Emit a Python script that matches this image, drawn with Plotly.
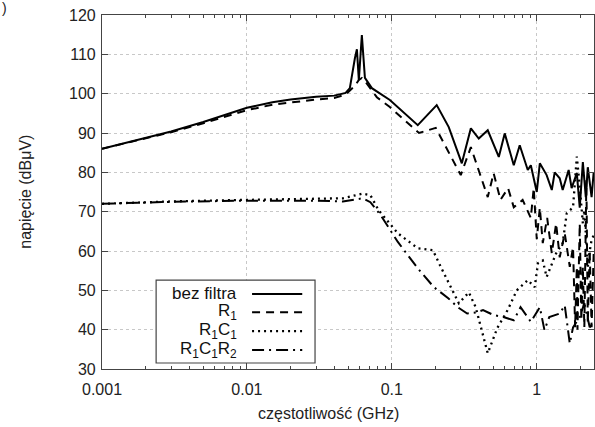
import plotly.graph_objects as go

# ---- data (frequency in GHz, voltage in dBµV) ----
bez_f = [0.001, 0.002, 0.003, 0.005, 0.01, 0.015, 0.02, 0.03, 0.04, 0.048, 0.0513, 0.0556, 0.0574,
         0.0592, 0.0621, 0.0652, 0.0728, 0.0969, 0.151, 0.204, 0.247, 0.304, 0.351, 0.398, 0.459,
         0.547, 0.601, 0.694, 0.763, 0.867, 0.910, 1.0, 1.05, 1.17, 1.27, 1.33, 1.44, 1.51, 1.66,
         1.74, 1.89, 1.98, 2.08, 2.18, 2.25, 2.39, 2.47]
bez_v = [86, 88.7, 90.4, 92.8, 96.4, 97.8, 98.5, 99.2, 99.5, 100.2, 101.4, 109, 111.3,
         103.4, 114.9, 104, 101.4, 98.4, 92, 97.1, 91.5, 82.3, 91.2, 88.6, 90.7,
         83.9, 89.9, 81.8, 86.9, 80.6, 81.8, 75, 82.3, 79.3, 75.5, 80, 78.5, 75.5, 80.6,
         76, 79.8, 71, 82.6, 73.7, 81.3, 73.7, 80]

r1_f = [0.001, 0.002, 0.003, 0.005, 0.01, 0.015, 0.02, 0.03, 0.04, 0.048, 0.0556, 0.0592, 0.0621,
        0.0652, 0.0788, 0.0969, 0.154, 0.201, 0.299, 0.351, 0.459, 0.504, 0.562, 0.634, 0.694,
        0.799, 0.910, 0.953, 1.0, 1.05, 1.10, 1.18, 1.27, 1.36, 1.44, 1.56, 1.69, 1.78, 1.84,
        1.89, 1.91, 1.98, 2.03, 2.08, 2.13, 2.20, 2.25, 2.32, 2.39, 2.47]
r1_v = [86, 88.6, 90.2, 92.5, 95.8, 97.2, 97.8, 98.5, 98.9, 99.8, 102, 103.5, 104,
        103.2, 99.1, 96.6, 90, 91.3, 79.3, 86.4, 73.7, 79.8, 73, 76, 71.1,
        73, 68.4, 76, 63, 71, 62, 68.4, 59.4, 67, 58.4, 64.5, 56, 61, 40.6,
        56, 40, 67, 42.4, 56, 40.6, 78, 41.6, 60, 40.6, 59.4]

r1c1_f = [0.001, 0.003, 0.01, 0.03, 0.0459, 0.063, 0.0711, 0.0809, 0.110, 0.151, 0.192, 0.218,
          0.29, 0.34, 0.379, 0.459, 0.534, 0.63, 0.728, 0.867, 0.968, 1.02, 1.10, 1.17, 1.36,
          1.51, 1.61, 1.78, 1.89, 1.98, 2.08, 2.13, 2.25, 2.32, 2.39, 2.47]
r1c1_v = [72, 72.6, 73, 73.2, 73.4, 74.6, 74.2, 70.4, 64.5, 60.7, 60.2, 55.9,
          46.7, 49.5, 45.7, 34, 40.4, 45, 50, 52.6, 50.8, 56.9, 57.6, 53.4, 59.4,
          62, 69.6, 71.1, 84, 76.3, 67, 70.4, 56, 60, 62.8, 64]

r1c1r2_f = [0.001, 0.003, 0.01, 0.03, 0.0459, 0.063, 0.0711, 0.0838, 0.110, 0.151, 0.195, 0.245,
            0.285, 0.331, 0.386, 0.426, 0.504, 0.588, 0.694, 0.773, 0.910, 1.05, 1.13, 1.22,
            1.44, 1.56, 1.69, 1.78, 1.98, 2.13, 2.32, 2.47]
r1c1r2_v = [72, 72.5, 72.8, 72.8, 72.6, 73.4, 72.4, 69.1, 62.3, 55.6, 50.8, 48,
            45.7, 44.1, 44.4, 45, 43.7, 43.2, 42.4, 45.7, 42, 45.7, 39.9, 43.2,
            44.1, 46.2, 36.5, 40.6, 43.2, 46.7, 40.6, 42]

names = ["bez filtra", "R<sub>1</sub>", "R<sub>1</sub>C<sub>1</sub>",
         "R<sub>1</sub>C<sub>1</sub>R<sub>2</sub>"]
series = [(bez_f, bez_v), (r1_f, r1_v), (r1c1_f, r1c1_v), (r1c1r2_f, r1c1r2_v)]
dashes = ["solid", "8px,6px", "2px,4px", "12px,5px,2px,5px"]
widths = [2, 2, 2.3, 2]

x_ticks = [0.001, 0.01, 0.1, 1]
x_ticktext = ["0.001", "0.01", "0.1", "1"]
y_ticks = [30, 40, 50, 60, 70, 80, 90, 100, 110, 120]

FONT = "Liberation Sans, Arial, sans-serif"

fig = go.Figure()
for (fx, fy), nm, d, w in zip(series, names, dashes, widths):
    fig.add_trace(go.Scatter(x=fx, y=fy, mode="lines", name=nm, showlegend=False,
                             line=dict(color="black", width=w, dash=d)))

fig.update_layout(
    width=595, height=427,
    margin=dict(l=102, r=1, t=15, b=58),
    paper_bgcolor="white", plot_bgcolor="white",
    font=dict(family=FONT, size=16, color="#222"),
)
fig.update_xaxes(
    type="log", range=[-3, 0.395],
    tickvals=x_ticks, ticktext=x_ticktext, ticklabelstandoff=6,
    ticks="inside", ticklen=6, tickcolor="#444",
    minor=dict(ticks="inside", ticklen=3, tickcolor="#444", dtick="D1", showgrid=False),
    showline=True, linecolor="#444", linewidth=1.2, mirror="allticks",
    showgrid=True, gridcolor="#c8c8c8", griddash="dot", gridwidth=1,
    zeroline=False,
)
fig.update_yaxes(
    range=[30, 120], tickvals=y_ticks, ticklabelstandoff=2,
    ticks="inside", ticklen=6, tickcolor="#444",
    showline=True, linecolor="#444", linewidth=1.2, mirror="allticks",
    showgrid=True, gridcolor="#c8c8c8", griddash="dot", gridwidth=1,
    zeroline=False,
)

# axis titles
fig.add_annotation(text="częstotliwość (GHz)", xref="paper", yref="paper",
                   x=0.46, y=-0.125, xanchor="center", yanchor="middle",
                   showarrow=False, font=dict(size=16, family=FONT, color="#222"))
fig.add_annotation(text="napięcie (dBμV)", xref="paper", yref="paper",
                   x=-0.157, y=0.5, xanchor="center", yanchor="middle", textangle=-90,
                   showarrow=False, font=dict(size=16, family=FONT, color="#222"))
fig.add_annotation(text=")", xref="paper", yref="paper", x=-0.207, y=1.02,
                   xanchor="left", yanchor="middle", showarrow=False,
                   font=dict(size=14, family=FONT, color="#222"))

# legend box (drawn manually: text right-aligned, sample on the right)
fig.add_shape(type="rect", xref="paper", yref="paper", x0=0.110, x1=0.433, y0=0.017, y1=0.251,
              line=dict(color="#444", width=1.2), fillcolor="white", layer="above")
row_y = [0.212, 0.160, 0.107, 0.054]
for nm, d, w, yy in zip(names, dashes, widths, row_y):
    fig.add_annotation(text=nm, xref="paper", yref="paper", x=0.278, y=yy,
                       xanchor="right", yanchor="middle", showarrow=False,
                       font=dict(size=17, family=FONT, color="#111"))
    fig.add_shape(type="line", xref="paper", yref="paper", x0=0.305, x1=0.407, y0=yy, y1=yy,
                  line=dict(color="black", width=w, dash=d), layer="above")

fig.write_html("out.html")
